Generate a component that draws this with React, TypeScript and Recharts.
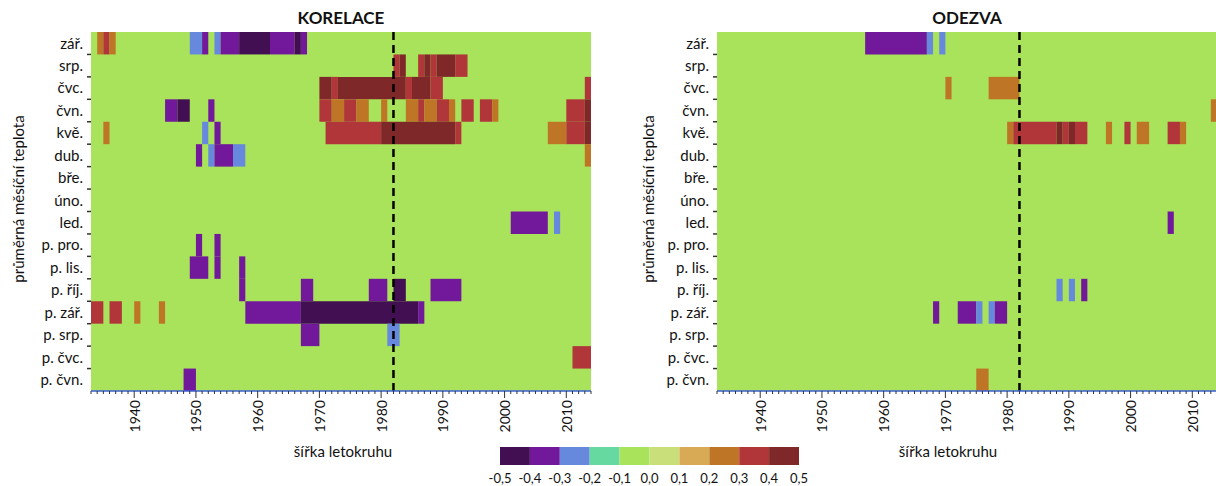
import React from 'react';
import { ComposedChart, XAxis, YAxis, ReferenceArea, ReferenceLine } from 'recharts';

const rowLabels = ['zář.', 'srp.', 'čvc.', 'čvn.', 'kvě.', 'dub.', 'bře.', 'úno.', 'led.', 'p. pro.', 'p. lis.', 'p. říj.', 'p. zář.', 'p. srp.', 'p. čvc.', 'p. čvn.'];
const yearStart = 1933;
const yearEnd = 2014;
const majorYearTicks = [1940, 1950, 1960, 1970, 1980, 1990, 2000, 2010];
const minorYearTicks = [1933, 1934, 1935, 1936, 1937, 1938, 1939, 1940, 1941, 1942, 1943, 1944, 1945, 1946, 1947, 1948, 1949, 1950, 1951, 1952, 1953, 1954, 1955, 1956, 1957, 1958, 1959, 1960, 1961, 1962, 1963, 1964, 1965, 1966, 1967, 1968, 1969, 1970, 1971, 1972, 1973, 1974, 1975, 1976, 1977, 1978, 1979, 1980, 1981, 1982, 1983, 1984, 1985, 1986, 1987, 1988, 1989, 1990, 1991, 1992, 1993, 1994, 1995, 1996, 1997, 1998, 1999, 2000, 2001, 2002, 2003, 2004, 2005, 2006, 2007, 2008, 2009, 2010, 2011, 2012, 2013, 2014];
const breakYear = 1982;
const colorBinEdges = [-0.5, -0.4, -0.3, -0.2, -0.1, 0.0, 0.1, 0.2, 0.3, 0.4, 0.5];
const colorBinColors = ['#410f52', '#71189b', '#6688dd', '#66d9a0', '#a9e35b', '#c9e07a', '#d9aa55', '#bf7526', '#b0363a', '#7f2829'];
const backgroundValue = -0.05;

// [row, first year, last year, value]
const korelaceCells: [string, number, number, number][] = [
  ['zář.', 1934, 1934, 0.25], ['zář.', 1935, 1935, 0.35], ['zář.', 1936, 1936, 0.25],
  ['zář.', 1949, 1950, -0.25], ['zář.', 1951, 1951, -0.35], ['zář.', 1953, 1953, -0.25],
  ['zář.', 1954, 1956, -0.35], ['zář.', 1957, 1961, -0.45], ['zář.', 1962, 1965, -0.35],
  ['zář.', 1966, 1966, -0.45], ['zář.', 1967, 1967, -0.35],
  ['srp.', 1982, 1982, 0.35], ['srp.', 1983, 1983, 0.45], ['srp.', 1986, 1986, 0.35],
  ['srp.', 1987, 1987, 0.45], ['srp.', 1988, 1988, 0.35], ['srp.', 1989, 1991, 0.45],
  ['srp.', 1992, 1993, 0.35],
  ['čvc.', 1970, 1971, 0.45], ['čvc.', 1972, 1972, 0.35], ['čvc.', 1973, 1983, 0.45],
  ['čvc.', 1984, 1984, 0.35], ['čvc.', 1985, 1987, 0.45], ['čvc.', 1988, 1989, 0.35],
  ['čvc.', 2013, 2013, 0.35],
  ['čvn.', 1945, 1946, -0.35], ['čvn.', 1947, 1948, -0.45], ['čvn.', 1952, 1952, -0.35],
  ['čvn.', 1970, 1971, 0.35], ['čvn.', 1972, 1973, 0.25], ['čvn.', 1974, 1975, 0.35],
  ['čvn.', 1976, 1977, 0.25], ['čvn.', 1980, 1980, 0.25], ['čvn.', 1984, 1985, 0.25],
  ['čvn.', 1986, 1986, 0.35], ['čvn.', 1987, 1988, 0.25], ['čvn.', 1989, 1990, 0.35],
  ['čvn.', 1991, 1991, 0.25], ['čvn.', 1993, 1994, 0.35], ['čvn.', 1996, 1997, 0.35],
  ['čvn.', 1998, 1998, 0.25], ['čvn.', 2010, 2012, 0.35], ['čvn.', 2013, 2013, 0.45],
  ['kvě.', 1935, 1935, 0.25], ['kvě.', 1951, 1951, -0.25], ['kvě.', 1953, 1953, -0.35],
  ['kvě.', 1971, 1979, 0.35], ['kvě.', 1980, 1991, 0.45], ['kvě.', 1992, 1992, 0.35],
  ['kvě.', 2007, 2009, 0.25], ['kvě.', 2010, 2012, 0.35], ['kvě.', 2013, 2013, 0.45],
  ['dub.', 1950, 1950, -0.35], ['dub.', 1952, 1952, -0.25], ['dub.', 1953, 1955, -0.35],
  ['dub.', 1956, 1957, -0.25], ['dub.', 2013, 2013, 0.25],
  ['led.', 2001, 2006, -0.35], ['led.', 2008, 2008, -0.25],
  ['p. pro.', 1950, 1950, -0.35], ['p. pro.', 1953, 1953, -0.35],
  ['p. lis.', 1949, 1951, -0.35], ['p. lis.', 1953, 1953, -0.35], ['p. lis.', 1957, 1957, -0.35],
  ['p. říj.', 1957, 1957, -0.35], ['p. říj.', 1967, 1968, -0.35], ['p. říj.', 1978, 1980, -0.35],
  ['p. říj.', 1982, 1983, -0.45], ['p. říj.', 1988, 1992, -0.35],
  ['p. zář.', 1933, 1934, 0.35], ['p. zář.', 1936, 1937, 0.35], ['p. zář.', 1940, 1940, 0.25],
  ['p. zář.', 1944, 1944, 0.25], ['p. zář.', 1958, 1966, -0.35], ['p. zář.', 1967, 1985, -0.45],
  ['p. zář.', 1986, 1986, -0.35],
  ['p. srp.', 1967, 1969, -0.35], ['p. srp.', 1981, 1982, -0.25],
  ['p. čvc.', 2011, 2013, 0.35],
  ['p. čvn.', 1948, 1949, -0.35],
];

const odezvaCells: [string, number, number, number][] = [
  ['zář.', 1957, 1966, -0.35], ['zář.', 1967, 1967, -0.25], ['zář.', 1969, 1969, -0.25],
  ['čvc.', 1970, 1970, 0.25], ['čvc.', 1977, 1981, 0.25],
  ['čvn.', 2013, 2013, 0.25],
  ['kvě.', 1980, 1980, 0.25], ['kvě.', 1981, 1987, 0.35], ['kvě.', 1988, 1988, 0.45],
  ['kvě.', 1989, 1989, 0.35], ['kvě.', 1990, 1990, 0.45], ['kvě.', 1991, 1992, 0.35],
  ['kvě.', 1996, 1996, 0.25], ['kvě.', 1999, 1999, 0.35], ['kvě.', 2001, 2002, 0.25],
  ['kvě.', 2006, 2007, 0.35], ['kvě.', 2008, 2008, 0.25],
  ['led.', 2006, 2006, -0.35],
  ['p. říj.', 1988, 1988, -0.25], ['p. říj.', 1990, 1990, -0.25], ['p. říj.', 1992, 1992, -0.35],
  ['p. zář.', 1968, 1968, -0.35], ['p. zář.', 1972, 1974, -0.35], ['p. zář.', 1975, 1975, -0.25],
  ['p. zář.', 1977, 1977, -0.25], ['p. zář.', 1978, 1979, -0.35],
  ['p. čvn.', 1975, 1976, 0.25],
];

const FONT = 'Lato, "Open Sans", sans-serif';

function colorFor(v: number): string {
  for (let i = 0; i < colorBinColors.length; i++) {
    if (v >= colorBinEdges[i] && v < colorBinEdges[i + 1]) return colorBinColors[i];
  }
  return v < 0 ? colorBinColors[0] : colorBinColors[colorBinColors.length - 1];
}

const rowBoundaryTicks = rowLabels.slice(1).map((_, i) => i + 1);
const rowCenterTicks = rowLabels.map((_, i) => i + 0.5);

// Yearly minor ticks come from the axis tickLine; decades get a longer tick and a rotated label.
const YearTick = (props: any) => {
  const { x, y, payload } = props;
  if (!majorYearTicks.includes(payload.value)) return <g />;
  return (
    <g>
      <line x1={x} y1={y} x2={x} y2={y + 4} stroke="#333" strokeWidth={1} />
      <text x={x} y={y + 6} transform={`rotate(-90 ${x} ${y + 6})`} textAnchor="end" dominantBaseline="central"
        fontSize={14} fontFamily={FONT} fill="#111">{payload.value}</text>
    </g>
  );
};

function Panel({ cells, left }: { cells: [string, number, number, number][]; left: number }) {
  const data = cells.map(([row, from]) => ({ year: from, row: rowLabels.indexOf(row) + 0.5 }));
  return (
    <div style={{ position: 'absolute', left, top: 0 }}>
      <ComposedChart width={600} height={486} margin={{ top: 32, right: 9, left: 0, bottom: 0 }} data={data}>
        <XAxis dataKey="year" type="number" domain={[yearStart, yearEnd]} ticks={minorYearTicks} allowDataOverflow
          height={95} tickSize={3} tickMargin={0} tick={<YearTick />} interval={0}
          axisLine={{ stroke: '#3b5fd6', strokeWidth: 1.5 }} tickLine={{ stroke: '#333' }} />
        <YAxis dataKey="row" type="number" domain={[0, rowLabels.length]} reversed ticks={rowCenterTicks} allowDataOverflow
          width={91} tickSize={6} tickMargin={2} tickLine={false} axisLine={false} interval={0}
          tickFormatter={(v: number) => rowLabels[Math.floor(v)]}
          tick={{ fontSize: 15, fill: '#111', fontFamily: FONT }} />
        <ReferenceArea x1={yearStart} x2={yearEnd} y1={0} y2={rowLabels.length}
          fill={colorFor(backgroundValue)} fillOpacity={1} stroke="none" />
        {cells.map(([row, from, to, v], i) => (
          <ReferenceArea key={i} x1={from} x2={to + 1}
            y1={rowLabels.indexOf(row)} y2={rowLabels.indexOf(row) + 1}
            fill={colorFor(v)} fillOpacity={1} stroke="none" />
        ))}
        {rowBoundaryTicks.map((b) => (
          <ReferenceLine key={`t${b}`} segment={[{ x: yearStart - 0.65, y: b }, { x: yearStart, y: b }]}
            ifOverflow="visible" stroke="#333" strokeWidth={1.5} />
        ))}
        <ReferenceLine x={breakYear} stroke="#000" strokeWidth={2.5} strokeDasharray="8 5" />
      </ComposedChart>
    </div>
  );
}

function ColorBar() {
  const data = colorBinEdges.map((e) => ({ v: e, y: 0.5 }));
  return (
    <div style={{ position: 'absolute', left: 470, top: 436 }}>
      <ComposedChart width={350} height={50} margin={{ top: 11, right: 21, left: 30, bottom: 0 }} data={data}>
        <XAxis dataKey="v" type="number" domain={[-0.5, 0.5]} ticks={colorBinEdges} allowDataOverflow height={21}
          tickLine={false} axisLine={false} tickMargin={3} interval={0}
          tickFormatter={(v: number) => v.toFixed(1).replace('.', ',')}
          tick={{ fontSize: 13, fill: '#111', fontFamily: FONT }} />
        <YAxis dataKey="y" type="number" domain={[0, 1]} hide />
        {colorBinColors.map((c, i) => (
          <ReferenceArea key={i} x1={colorBinEdges[i]} x2={colorBinEdges[i + 1]} y1={0} y2={1}
            fill={c} fillOpacity={1} stroke="none" />
        ))}
      </ComposedChart>
    </div>
  );
}

export default function App() {
  const textStyle = { fontFamily: FONT, fill: '#111' } as React.CSSProperties;
  return (
    <div style={{ position: 'absolute', left: 0, top: 0, width: 1216, height: 486, overflow: 'hidden', background: '#fff' }}>
      <Panel cells={korelaceCells} left={0} />
      <Panel cells={odezvaCells} left={626} />
      <ColorBar />
      <svg width={1216} height={486} style={{ position: 'absolute', left: 0, top: 0, pointerEvents: 'none' }}>
        <text x={341} y={24} textAnchor="middle" fontSize={17} fontWeight="bold" style={textStyle}>KORELACE</text>
        <text x={967} y={24} textAnchor="middle" fontSize={17} fontWeight="bold" style={textStyle}>ODEZVA</text>
        <text x={343} y={457} textAnchor="middle" fontSize={15} style={textStyle}>šířka letokruhu</text>
        <text x={948} y={457} textAnchor="middle" fontSize={15} style={textStyle}>šířka letokruhu</text>
        <text x={18} y={199} transform="rotate(-90 18 199)" textAnchor="middle" dominantBaseline="central" fontSize={15} style={textStyle}>průměrná měsíční teplota</text>
        <text x={648} y={199} transform="rotate(-90 648 199)" textAnchor="middle" dominantBaseline="central" fontSize={15} style={textStyle}>průměrná měsíční teplota</text>
      </svg>
    </div>
  );
}
